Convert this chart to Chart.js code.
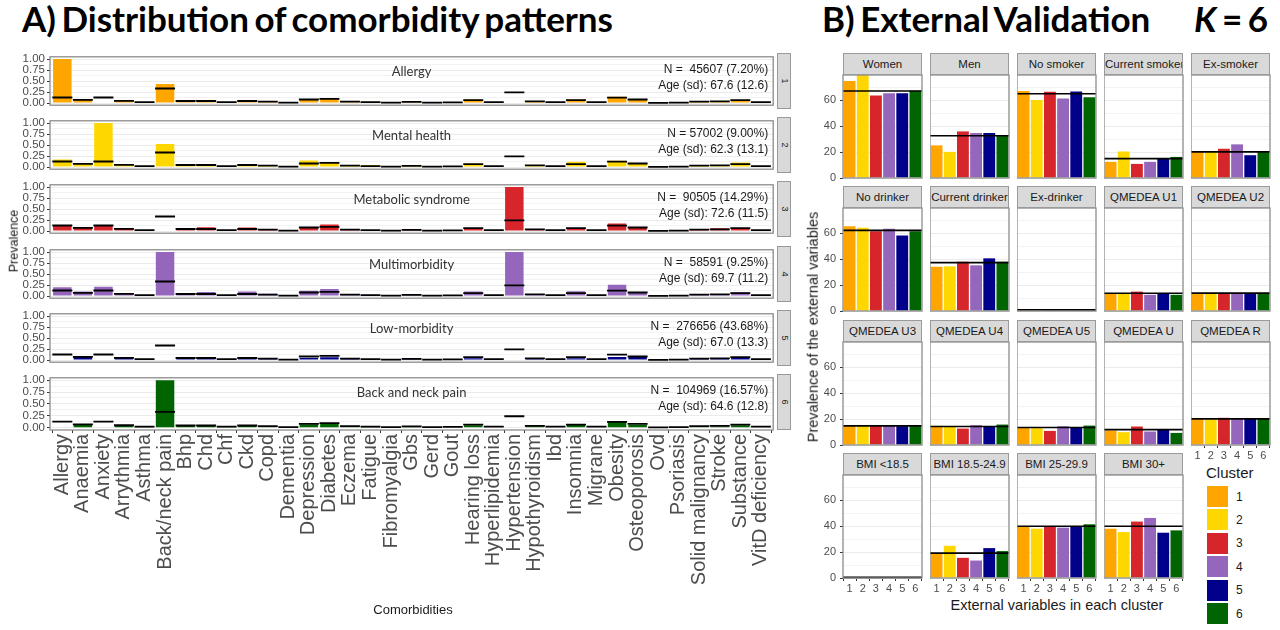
<!DOCTYPE html>
<html>
<head>
<meta charset="utf-8">
<script src="https://cdn.jsdelivr.net/npm/chart.js@4.4.1/dist/chart.umd.min.js"></script>
<style>
  html, body { margin:0; padding:0; background:#fff; }
  body { width:1280px; height:630px; position:relative; overflow:hidden; font-family:"Liberation Sans", Arial, sans-serif; color:#1a1a1a; }
  canvas { position:absolute; display:block; }
  .title { position:absolute; font-family:Lato, "Open Sans", sans-serif; font-weight:700; font-size:35px; color:#000; white-space:nowrap; line-height:1; word-spacing:-3px; }
  .stripR { position:absolute; background:#d9d9d9; border:1px solid #9a9a9a; box-sizing:border-box; }
  .stripR span { position:absolute; left:50%; top:50%; transform:translate(-50%,-50%) rotate(90deg); font-size:9px; color:#1a1a1a; line-height:1; }
  .stripT { position:absolute; background:#d9d9d9; border:1px solid #9a9a9a; box-sizing:border-box; font-size:11.5px; color:#1a1a1a; text-align:center; white-space:nowrap; overflow:hidden; }
  .txt { position:absolute; white-space:nowrap; color:#1a1a1a; line-height:1; }
</style>
</head>
<body>
<div class="title" style="left:22px;top:1px;">A) Distribution of comorbidity patterns</div>
<div class="title" style="left:822px;top:1px;">B) External Validation</div>
<div class="title" style="right:12px;top:1px;"><i>K</i> = 6</div>
<script>
// ---------------- DATA ----------------
const comorbidities = ['Allergy','Anaemia','Anxiety','Arrythmia','Asthma','Back/neck pain','Bhp','Chd','Chf','Ckd','Copd','Dementia','Depression','Diabetes','Eczema','Fatigue','Fibromyalgia','Gbs','Gerd','Gout','Hearing loss','Hyperlipidemia','Hypertension','Hypothyroidism','Ibd','Insomnia','Migrane','Obesity','Osteoporosis','Ovd','Psoriasis','Solid malignancy','Stroke','Substance','VitD deficiency'];
const patternNames = ['Allergy','Mental health','Metabolic syndrome','Multimorbidity','Low-morbidity','Back and neck pain'];
const patternN = ['N =  45607 (7.20%)','N = 57002 (9.00%)','N =  90505 (14.29%)','N =  58591 (9.25%)','N =  276656 (43.68%)','N =  104969 (16.57%)'];
const patternAge = ['Age (sd): 67.6 (12.6)','Age (sd): 62.3 (13.1)','Age (sd): 72.6 (11.5)','Age (sd): 69.7 (11.2)','Age (sd): 67.0 (13.3)','Age (sd): 64.6 (12.8)'];
const overallPrevalence = [0.125,0.07,0.125,0.05,0.02,0.33,0.045,0.045,0.02,0.045,0.03,0.01,0.08,0.095,0.03,0.02,0.01,0.025,0.01,0.015,0.065,0.02,0.24,0.035,0.02,0.065,0.02,0.12,0.08,0.005,0.01,0.03,0.035,0.065,0.02];
const prevAllergy       = [1.0,0.085,0,0.05,0.02,0.43,0.05,0.05,0.02,0.05,0.04,0.01,0.09,0.09,0.04,0.03,0.01,0.03,0.01,0.015,0.08,0.02,0,0.04,0.02,0.08,0.02,0.14,0.085,0.005,0.01,0.03,0.03,0.07,0.02];
const prevMentalHealth  = [0.17,0.085,1.0,0.06,0.02,0.52,0.06,0.06,0.02,0.06,0.045,0.015,0.15,0.1,0.04,0.045,0.02,0.03,0.015,0.015,0.08,0.015,0,0.04,0.02,0.12,0.02,0.14,0.085,0.005,0.01,0.03,0.03,0.1,0.015];
const prevMetabolic     = [0.13,0.08,0.13,0.07,0.02,0,0.05,0.085,0.02,0.08,0.04,0.01,0.08,0.15,0.02,0.01,0.005,0.02,0.005,0.01,0.07,0.01,1.0,0.02,0.015,0.065,0.01,0.17,0.08,0.005,0.02,0.045,0.06,0.065,0.015];
const prevMultimorbidity= [0.2,0.1,0.21,0.07,0.025,1.0,0.065,0.09,0.025,0.1,0.05,0.02,0.12,0.16,0.045,0.03,0.02,0.04,0.01,0.015,0.1,0.015,1.0,0.03,0.015,0.11,0.015,0.255,0.085,0.005,0.01,0.045,0.045,0.085,0.015];
const prevLowMorbidity  = [0,0.07,0,0.05,0.02,0,0.055,0.055,0.02,0.055,0.04,0.015,0.045,0.065,0.035,0.02,0.01,0.02,0.01,0.015,0.04,0.015,0,0.03,0.015,0.04,0.015,0.07,0.07,0.005,0.01,0.03,0.03,0.06,0.015];
const prevBackNeck      = [0,0.065,0,0.045,0.015,1.0,0.045,0.045,0.015,0.05,0.035,0.01,0.065,0.08,0.03,0.02,0.01,0.02,0.01,0.01,0.05,0.01,0,0.03,0.01,0.06,0.01,0.12,0.06,0.005,0.01,0.03,0.025,0.05,0.01];
const prevMajorTicks = [0, 0.25, 0.5, 0.75, 1];
const prevTickLabels = ['0.00','0.25','0.50','0.75','1.00'];
const prevMinorTicks = [0.125, 0.375, 0.625, 0.875];

const clusterIds = ['1','2','3','4','5','6'];
const clusterColors = ['#FFA500','#FFD700','#D7262B','#9467BD','#00008B','#006400'];

const extVariables = ['Women','Men','No smoker','Current smoker','Ex-smoker','No drinker','Current drinker','Ex-drinker','QMEDEA U1','QMEDEA U2','QMEDEA U3','QMEDEA U4','QMEDEA U5','QMEDEA U','QMEDEA R','BMI <18.5','BMI 18.5-24.9','BMI 25-29.9','BMI 30+'];
const extCluster1 = [75,25.2,67.2,12.5,20,65.4,34.2,0.9,13.2,13.6,14.6,14.8,13.7,11.2,20.2,0.5,18.9,40.2,38.1];
const extCluster2 = [79.6,20.2,60.2,20.5,20,64.3,34.5,0.8,13.2,13.5,14.6,14.5,13,9.9,19.7,0.6,24.9,38.1,35.5];
const extCluster3 = [63.8,36,66.7,10.9,22.6,61.7,38.1,1.0,15,13.9,14.8,12.7,10.9,14.3,21,0.4,15.6,40.2,43.6];
const extCluster4 = [65.4,34.8,61.5,12.5,26,63.6,35.3,0.9,12.5,13.7,14.7,15.3,14.5,10.4,20.2,0.4,13.5,38.9,46.4];
const extCluster5 = [65.4,34.8,66.9,15.3,17.6,58.4,40.7,0.8,13.7,13.8,14.6,14.5,13.2,12.2,20.5,0.6,23.1,40.2,35];
const extCluster6 = [67.4,33,62.5,16.3,20,61.7,38.1,1.0,12.5,13.6,14.7,15.8,15,9.3,20.5,0.5,20.8,41.5,36.8];
const extOverall  = [67.2,32.7,65.1,15,20.2,62.3,37.4,0.9,13.7,13.8,14.8,14.3,13.5,11.9,20.2,0.5,19.2,40,40];
const extMajorTicks = [0,20,40,60];
const extTickLabels = ['0','20','40','60'];
const extMinorTicks = [10,30,50,70];

// ---------------- SETUP ----------------
Chart.defaults.font.family = '"Liberation Sans", Arial, sans-serif';
Chart.defaults.color = '#4d4d4d';
Chart.defaults.animation = false;

const patternPrevalence = [prevAllergy, prevMentalHealth, prevMetabolic, prevMultimorbidity, prevLowMorbidity, prevBackNeck];
const extClusters = [extCluster1, extCluster2, extCluster3, extCluster4, extCluster5, extCluster6];

function addCanvas(x, y, w, h) {
  const c = document.createElement('canvas');
  c.width = w; c.height = h;
  c.style.left = x + 'px'; c.style.top = y + 'px';
  c.style.width = w + 'px'; c.style.height = h + 'px';
  document.body.appendChild(c);
  return c;
}
function addDiv(cls, x, y, w, h, html, extra) {
  const d = document.createElement('div');
  d.className = cls;
  d.style.left = x + 'px'; d.style.top = y + 'px';
  if (w != null) d.style.width = w + 'px';
  if (h != null) d.style.height = h + 'px';
  if (extra) Object.assign(d.style, extra);
  d.innerHTML = html;
  document.body.appendChild(d);
  return d;
}
function fixSize(s, key, val) {
  s[key] = val;
  s.paddingTop = 0; s.paddingBottom = 0; s.paddingLeft = 0; s.paddingRight = 0;
}
const framePlugin = {
  id: 'frame',
  afterDraw(c) {
    const a = c.chartArea, ctx = c.ctx;
    ctx.save();
    ctx.strokeStyle = '#8c8c8c';
    ctx.lineWidth = 1.3;
    ctx.strokeRect(a.left, a.top, a.right - a.left, a.bottom - a.top);
    ctx.restore();
  }
};
const facetTextPlugin = {
  id: 'facetText',
  afterDatasetsDraw(c, args, opts) {
    const a = c.chartArea, ctx = c.ctx;
    ctx.save();
    ctx.textBaseline = 'middle';
    ctx.fillStyle = '#333';
    ctx.font = '13px Lato, "Open Sans", sans-serif';
    ctx.textAlign = 'center';
    ctx.fillText(opts.name, (a.left + a.right) / 2, a.top + 15);
    ctx.fillStyle = '#1a1a1a';
    ctx.font = '12px "Liberation Sans", Arial, sans-serif';
    ctx.textAlign = 'right';
    ctx.fillText(opts.n, a.right - 5, a.top + 13);
    ctx.fillText(opts.age, a.right - 5, a.top + 29);
    ctx.restore();
  }
};
const hlinePlugin = {
  id: 'hline',
  afterDatasetsDraw(c, args, opts) {
    const a = c.chartArea, ctx = c.ctx;
    const y = c.scales.y.getPixelForValue(opts.value);
    ctx.save();
    ctx.strokeStyle = '#000';
    ctx.lineWidth = 1.6;
    ctx.beginPath();
    ctx.moveTo(a.left, y); ctx.lineTo(a.right, y);
    ctx.stroke();
    ctx.restore();
  }
};
const isIn = (arr, v) => arr.some(t => Math.abs(t - v) < 1e-9);

// ---------------- PANEL A ----------------
const plotLeftA = 50, plotRightA = 777, rowH = 56;
patternNames.forEach((name, r) => {
  const isLast = r === patternNames.length - 1;
  const top = Math.round(53 + r * 64.2);
  const padT = 8, padR = 8, padB = isLast ? 0 : 8;
  const xH = isLast ? 190 : 0;
  const W = plotRightA + padR, H = padT + rowH + padB + xH;
  const cv = addCanvas(0, top - padT, W, H);
  const gridVals = prevMajorTicks.concat(prevMinorTicks).sort((a, b) => a - b);
  new Chart(cv, {
    type: 'bar',
    data: {
      datasets: [
        { type: 'line', data: overallPrevalence.map((v, i) => ({ x: i, y: v })), showLine: false,
          pointStyle: 'line', pointRadius: 10, pointHoverRadius: 10, pointBorderColor: '#000',
          pointBorderWidth: 1.8, borderColor: '#000', borderWidth: 1.8, order: 0 },
        { type: 'bar', data: patternPrevalence[r].map((v, i) => ({ x: i, y: v })),
          backgroundColor: clusterColors[r], borderWidth: 0, barPercentage: 0.9, categoryPercentage: 1, order: 1 }
      ]
    },
    options: {
      responsive: false, animation: false, events: [],
      layout: { padding: { top: padT, right: padR, bottom: padB, left: 0 } },
      plugins: { legend: { display: false }, tooltip: { enabled: false },
        facetText: { name: name, n: patternN[r], age: patternAge[r] } },
      scales: {
        x: {
          type: 'linear', min: -0.6, max: comorbidities.length - 0.4, offset: false,
          display: isLast,
          afterBuildTicks: s => { s.ticks = comorbidities.map((_, i) => ({ value: i })); },
          afterFit: s => fixSize(s, 'height', xH),
          border: { display: false },
          grid: { drawOnChartArea: false, drawTicks: true, tickLength: 3, tickColor: '#333' },
          ticks: { autoSkip: false, minRotation: 90, maxRotation: 90, padding: 1,
            font: { size: 20 }, color: '#4d4d4d', callback: v => comorbidities[v] }
        },
        y: {
          min: -0.05, max: 1.05,
          afterBuildTicks: s => { s.ticks = gridVals.map(v => ({ value: v })); },
          afterFit: s => fixSize(s, 'width', plotLeftA),
          border: { display: false },
          grid: {
            color: '#ebebeb',
            lineWidth: c => (c.tick && isIn(prevMajorTicks, c.tick.value)) ? 1 : 0.6,
            tickLength: 3,
            tickColor: c => (c.tick && isIn(prevMajorTicks, c.tick.value)) ? '#333' : 'rgba(0,0,0,0)'
          },
          ticks: { autoSkip: false, padding: 2, font: { size: 11.5 }, color: '#4d4d4d',
            callback: v => { const k = prevMajorTicks.findIndex(t => Math.abs(t - v) < 1e-9); return k >= 0 ? prevTickLabels[k] : ''; } }
        }
      }
    },
    plugins: [facetTextPlugin, framePlugin]
  });
  addDiv('stripR', plotRightA, top, 14, rowH, '<span>' + (r + 1) + '</span>');
});
addDiv('txt', 14, 241, null, null, 'Prevalence', { fontSize: '12.5px', transform: 'translate(-50%,-50%) rotate(-90deg)' });
addDiv('txt', 413, 609, null, null, 'Comorbidities', { fontSize: '13px', transform: 'translate(-50%,-50%)' });

// ---------------- PANEL B ----------------
const extMax = Math.max(...extClusters.flat());
const extGrid = extMajorTicks.concat(extMinorTicks).sort((a, b) => a - b);
extVariables.forEach((name, v) => {
  const col = v % 5, row = Math.floor(v / 5);
  const pl = Math.round(843.3 + col * 87), pt = Math.round(75 + row * 133.3);
  const pw = 79, ph = 103;
  const yW = col === 0 ? 30 : 0;
  const showX = row === 3 || v === 14;
  const xH = showX ? 17 : 0;
  const pad = 6;
  const cw = yW + pw + pad, ch = pad + ph + (showX ? xH : pad);
  const cv = addCanvas(pl - yW, pt - pad, cw, ch);
  new Chart(cv, {
    type: 'bar',
    data: { labels: clusterIds, datasets: [{ data: extClusters.map(arr => arr[v]), backgroundColor: clusterColors,
      borderWidth: 0, barPercentage: 0.9, categoryPercentage: 1 }] },
    options: {
      responsive: false, animation: false, events: [],
      layout: { padding: { top: pad, right: pad, bottom: showX ? 0 : pad, left: 0 } },
      plugins: { legend: { display: false }, tooltip: { enabled: false }, hline: { value: extOverall[v] } },
      scales: {
        x: { type: 'category', offset: true, display: showX,
          afterFit: s => fixSize(s, 'height', xH),
          border: { display: false },
          grid: { drawOnChartArea: false, tickLength: 3, tickColor: '#333' },
          ticks: { padding: 1, font: { size: 11 }, color: '#4d4d4d', maxRotation: 0, autoSkip: false } },
        y: { min: 0, max: extMax,
          afterBuildTicks: s => { s.ticks = extGrid.map(x => ({ value: x })); },
          afterFit: s => fixSize(s, 'width', yW),
          border: { display: false },
          grid: { color: '#ebebeb',
            lineWidth: c => (c.tick && extMajorTicks.includes(c.tick.value)) ? 1 : 0.6,
            drawTicks: col === 0, tickLength: 3,
            tickColor: c => (c.tick && extMajorTicks.includes(c.tick.value)) ? '#333' : 'rgba(0,0,0,0)' },
          ticks: { display: col === 0, autoSkip: false, padding: 4, font: { size: 11 }, color: '#4d4d4d',
            callback: val => { const k = extMajorTicks.indexOf(val); return k >= 0 ? extTickLabels[k] : ''; } } }
      }
    },
    plugins: [hlinePlugin, framePlugin]
  });
  addDiv('stripT', pl, pt - 22, pw, 22, name, { lineHeight: '20px' });
});
addDiv('txt', 813, 327, null, null, 'Prevalence of the external variables', { fontSize: '14.5px', transform: 'translate(-50%,-50%) rotate(-90deg)' });
addDiv('txt', 1057, 605, null, null, 'External variables in each cluster', { fontSize: '14.5px', transform: 'translate(-50%,-50%)' });

// legend
addDiv('txt', 1206, 472, null, null, 'Cluster', { fontSize: '15px', transform: 'translateY(-50%)' });
clusterIds.forEach((id, i) => {
  const t = 486 + i * 23.4;
  addDiv('txt', 1207, t, 21, 21, '', { background: clusterColors[i] });
  addDiv('txt', 1236, t + 10.5, null, null, id, { fontSize: '12px', transform: 'translateY(-50%)' });
});
</script>
</body>
</html>
